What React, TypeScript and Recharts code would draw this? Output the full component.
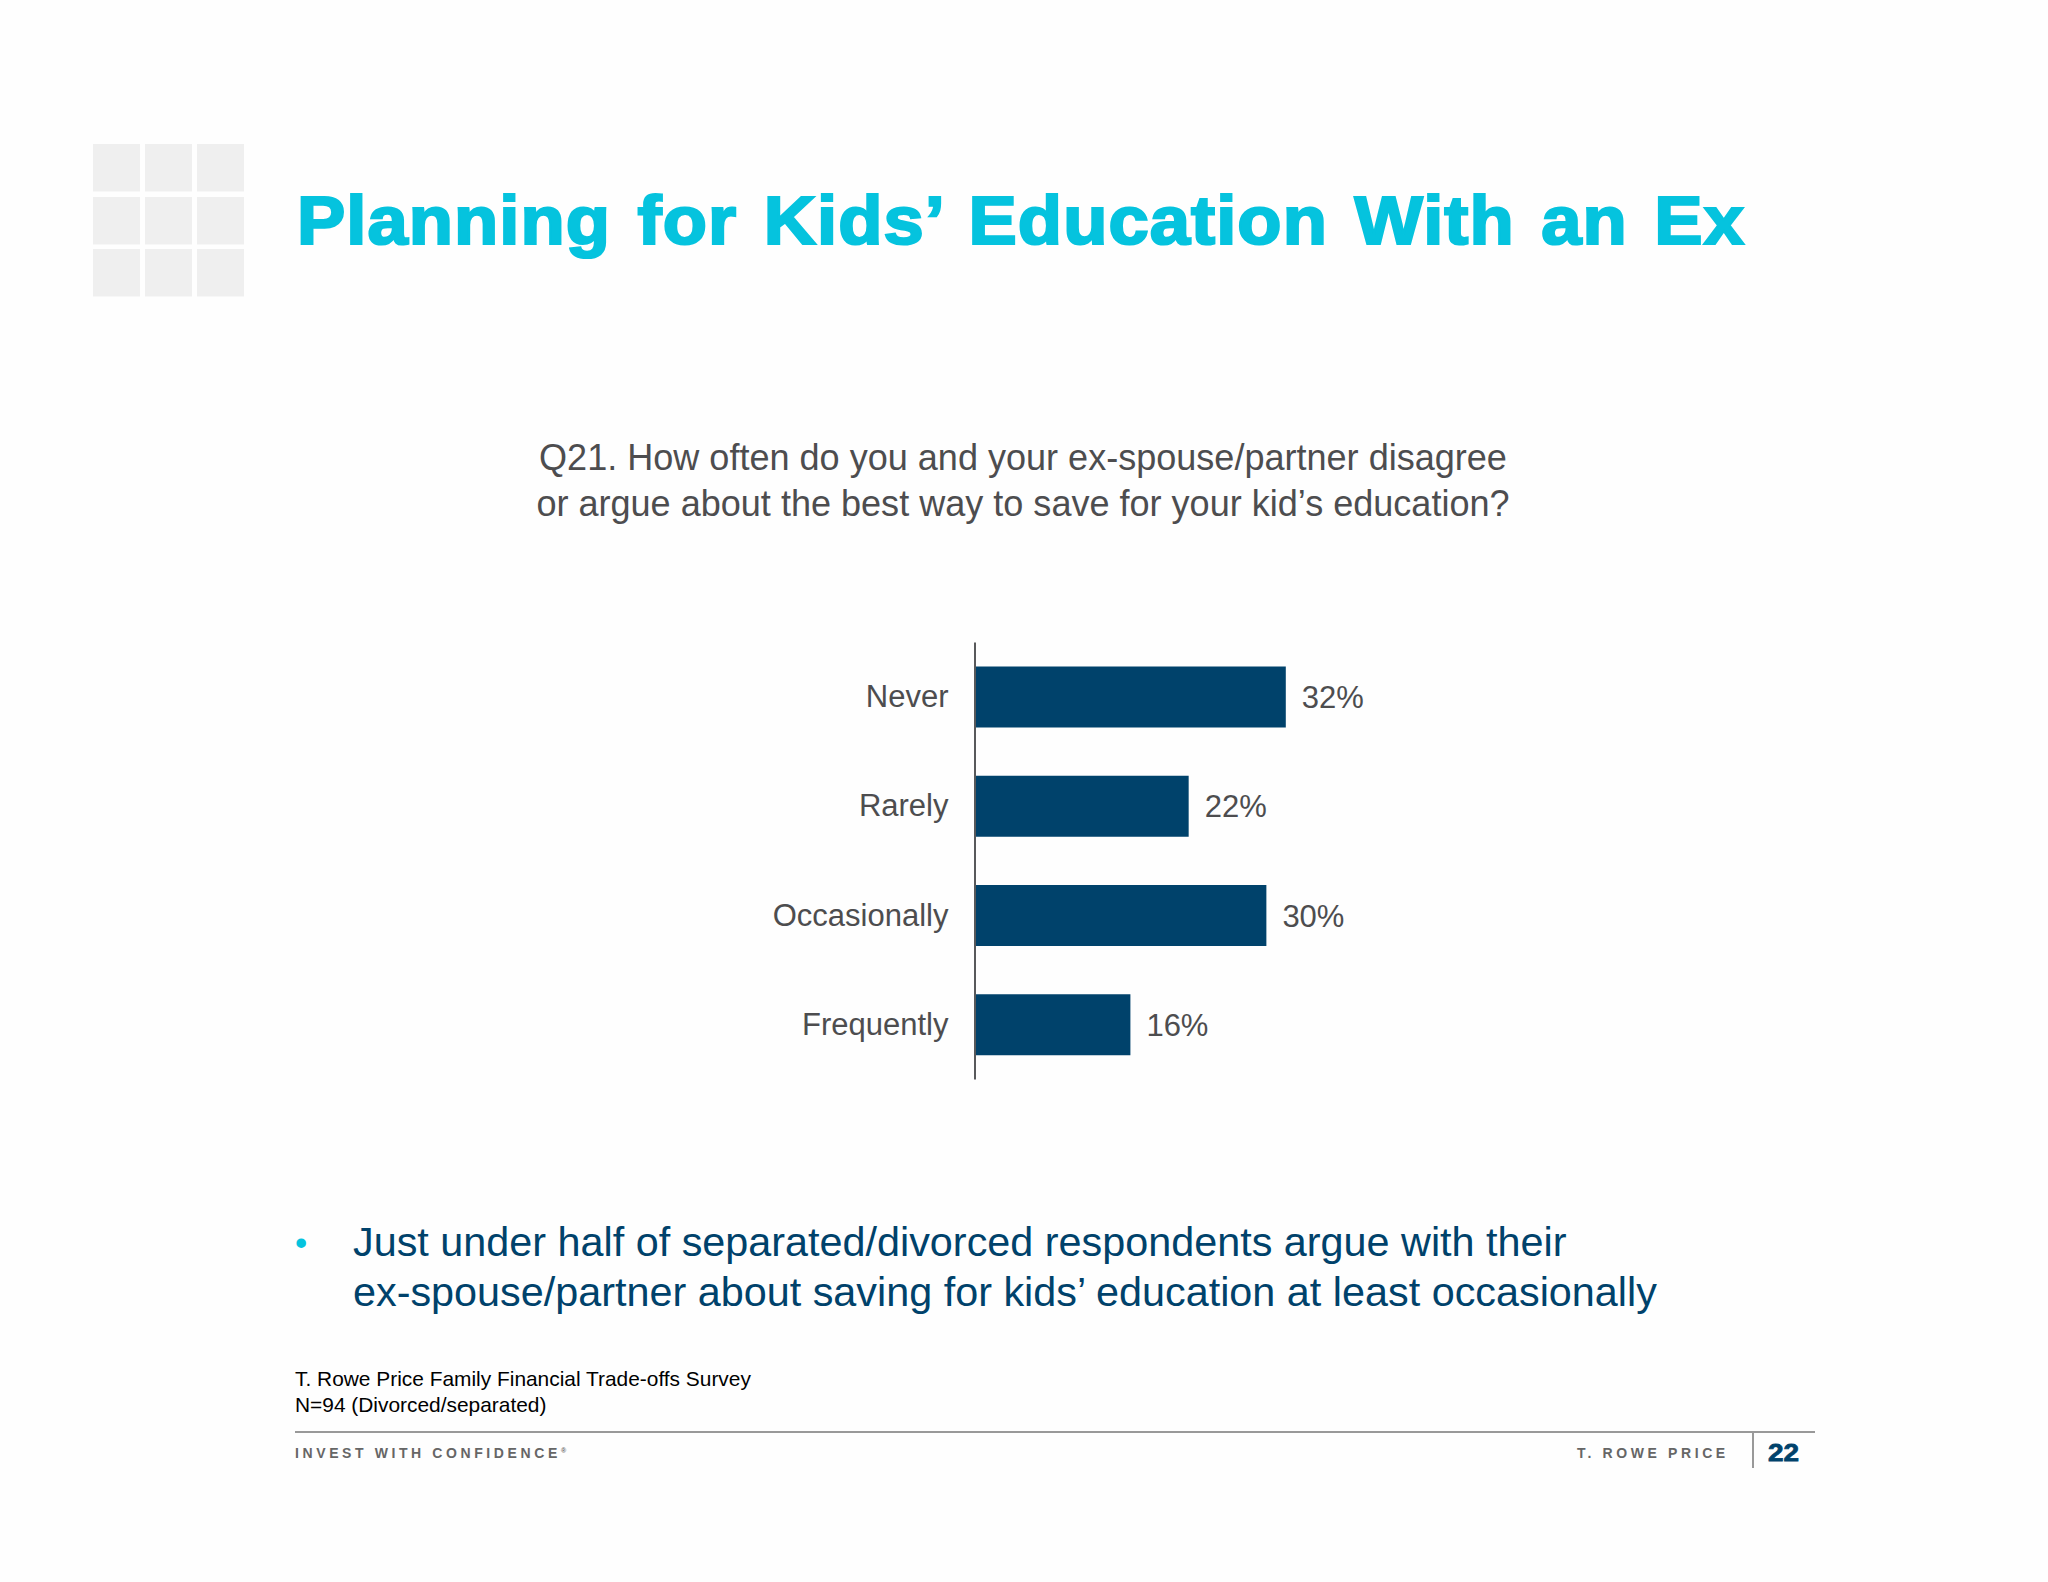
import * as React from 'react';
import { Bar, BarChart, LabelList, XAxis, YAxis } from 'recharts';

const categories = ['Never', 'Rarely', 'Occasionally', 'Frequently'];
const shares = [32, 22, 30, 16];
const rows = categories.map((name, i) => ({ name, share: shares[i] }));

const SANS = '"Liberation Sans", Arial, sans-serif';
const NAVY = '#00426B';
const CYAN = '#05C3DE';
const GREY = '#4D4D4F';

const questionLines = [
  'Q21. How often do you and your ex-spouse/partner disagree',
  'or argue about the best way to save for your kid\u2019s education?',
];
const bulletLines = [
  'Just under half of separated/divorced respondents argue with their',
  'ex-spouse/partner about saving for kids\u2019 education at least occasionally',
];
const sourceLines = [
  'T. Rowe Price Family Financial Trade-offs Survey',
  'N=94 (Divorced/separated)',
];

const logoX = [93, 145, 197];
const logoY = [144, 197, 249];

export default function App() {
  return (
    <div
      style={{
        position: 'absolute',
        left: 0,
        top: 0,
        width: 2048,
        height: 1582,
        background: '#fefefe',
        overflow: 'hidden',
      }}
    >
      <svg
        width={2048}
        height={1582}
        style={{ position: 'absolute', left: 0, top: 0 }}
        fontFamily={SANS}
      >
        {logoY.map((y) =>
          logoX.map((x) => (
            <rect key={`${x}-${y}`} x={x} y={y} width={47} height={47.5} fill="#efefef" />
          )),
        )}
        <text
          x={297}
          y={244}
          fontSize={68}
          fontWeight={700}
          fill={CYAN}
          stroke={CYAN}
          strokeWidth={2.2}
          wordSpacing={5}
          letterSpacing={1}
          textLength={1448}
          lengthAdjust="spacingAndGlyphs"
        >
          Planning for Kids’ Education With an Ex
        </text>

        {questionLines.map((line, i) => (
          <text key={line} x={1023} y={470 + i * 46} fontSize={36.05} fill={GREY} textAnchor="middle">
            {line}
          </text>
        ))}

        <text x={295} y={1255} fontSize={35} fill={CYAN}>•</text>
        {bulletLines.map((line, i) => (
          <text key={line} x={353} y={1256 + i * 50} fontSize={41.35} fill={NAVY}>
            {line}
          </text>
        ))}

        {sourceLines.map((line, i) => (
          <text key={line} x={295} y={1386 + i * 26} fontSize={20.9} fill="#000000">
            {line}
          </text>
        ))}

        <line x1={295} x2={1815} y1={1432} y2={1432} stroke="#999999" strokeWidth={2} />
        <line x1={1753} x2={1753} y1={1432} y2={1468} stroke="#999999" strokeWidth={2} />
        <text x={295} y={1458} fontSize={14} fontWeight={700} fill="#666666" letterSpacing={3.6}>
          INVEST WITH CONFIDENCE
          <tspan fontSize={7} dy={-5} letterSpacing={0}>®</tspan>
        </text>
        <text x={1577} y={1458} fontSize={14} fontWeight={700} fill="#666666" letterSpacing={3.6}>
          T. ROWE PRICE
        </text>
        <text
          x={1768}
          y={1461}
          fontSize={24}
          fontWeight={700}
          fill={NAVY}
          stroke={NAVY}
          strokeWidth={0.8}
          textLength={31}
          lengthAdjust="spacingAndGlyphs"
        >
          22
        </text>
      </svg>

      <div style={{ position: 'absolute', left: 700, top: 620 }}>
        <BarChart
          width={760}
          height={480}
          data={rows}
          layout="vertical"
          margin={{ top: 22.5, right: 96.5, bottom: 20.5, left: 0 }}
        >
          <XAxis type="number" domain={[0, 40]} hide />
          <YAxis
            type="category"
            dataKey="name"
            width={275}
            tickLine={false}
            tickMargin={20.5}
            axisLine={{ stroke: '#58595B', strokeWidth: 2 }}
            tick={{ fill: GREY, fontSize: 31, fontFamily: SANS, dy: -1 }}
          />
          <Bar dataKey="share" fill={NAVY} barSize={61} isAnimationActive={false}>
            <LabelList
              dataKey="share"
              position="right"
              offset={16}
              formatter={(v: number) => `${v}%`}
              fill={GREY}
              fontSize={31}
              fontFamily={SANS}
            />
          </Bar>
        </BarChart>
      </div>
    </div>
  );
}
